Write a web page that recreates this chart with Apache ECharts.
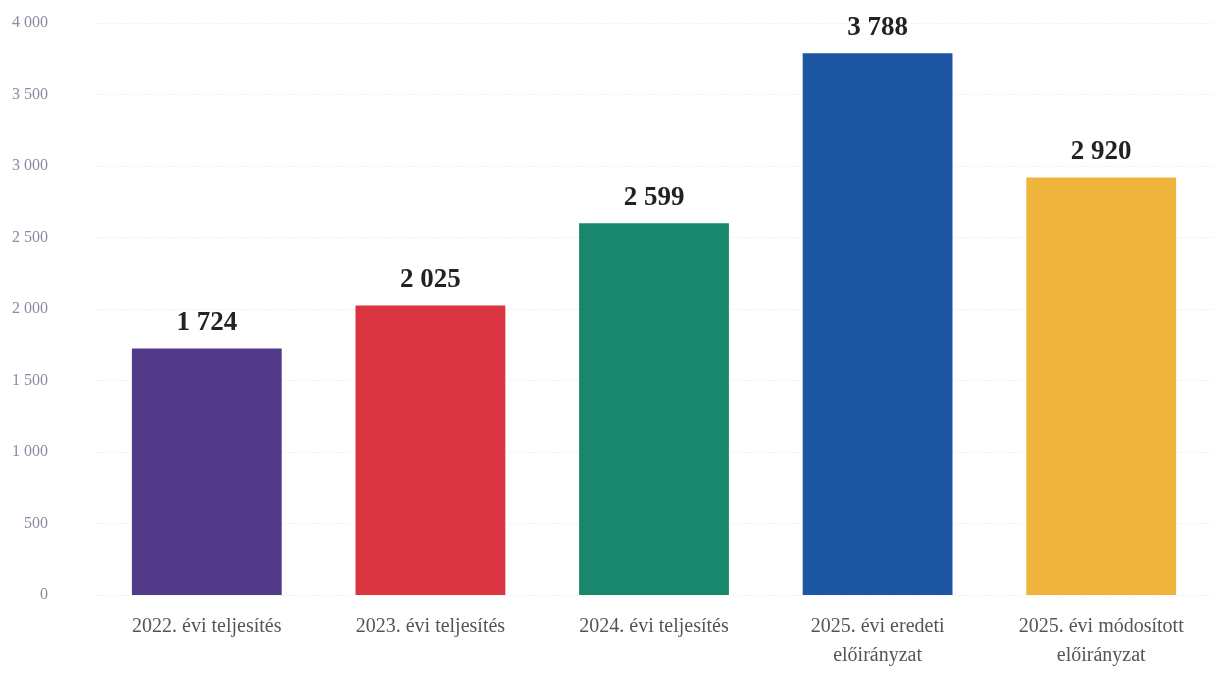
<!DOCTYPE html>
<html><head><meta charset="utf-8">
<script src="https://cdn.jsdelivr.net/npm/echarts@6/dist/echarts.min.js"></script>
<style>html,body{margin:0;padding:0;background:#fff}#c{width:1226px;height:674px}</style>
</head><body><div id="c"></div>
<script>
const categories = ["2022. évi teljesítés","2023. évi teljesítés","2024. évi teljesítés","2025. évi eredeti\nelőirányzat","2025. évi módosított\nelőirányzat"];
const values = [1724, 2025, 2599, 3788, 2920];
const barColors = ["#513a88","#d9343f","#18876b","#1c56a2","#eeb43c"];
const yTicks = [0,500,1000,1500,2000,2500,3000,3500,4000];
function fmt(v){return String(v).replace(/\B(?=(\d{3})+(?!\d))/g,' ');}
const chart = echarts.init(document.getElementById('c'));
chart.setOption({
  animation:false,
  grid:{left:95,right:13,top:23,bottom:79},
  xAxis:{type:'category',data:categories,
    axisLine:{show:false},axisTick:{show:false},
    axisLabel:{fontFamily:'Liberation Serif',fontSize:20,color:'#555',lineHeight:29,margin:17}},
  yAxis:{type:'value',min:0,max:4000,interval:500,
    axisLine:{show:false},axisTick:{show:false},
    splitLine:{lineStyle:{color:'#f2f2f2',type:'dashed'}},
    axisLabel:{fontFamily:'Liberation Serif',fontSize:16,color:'#8c8aa0',margin:47,formatter:fmt}},
  series:[{type:'bar',barWidth:'67%',
    data:values.map((v,i)=>({value:v,itemStyle:{color:barColors[i]}})),
    label:{show:true,position:'top',distance:12,fontFamily:'Liberation Serif',fontWeight:'bold',fontSize:27,color:'#222',formatter:p=>fmt(p.value)}}]
});
</script></body></html>
